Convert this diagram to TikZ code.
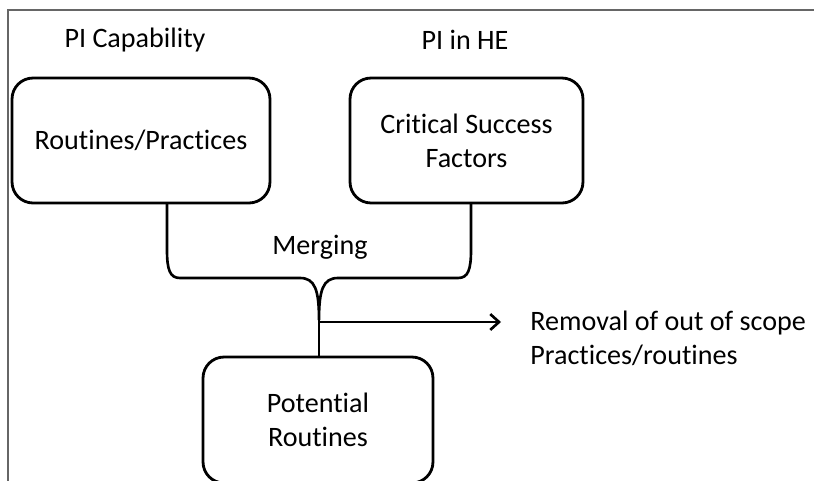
\documentclass[tikz,border=0pt]{standalone}
\usepackage{fontspec}
\setmainfont{Carlito}[RawFeature={-liga;-clig}]
\usetikzlibrary{arrows.meta,positioning}

\begin{document}
\begin{tikzpicture}[x=0.02cm, y=-0.02cm, >={Straight Barb[length=5pt,width=9pt]},
  box/.style={draw, line width=1.6pt, rounded corners=0.42cm, align=center,
    font=\fontsize{16}{19.5}\selectfont, inner sep=0pt},
  lbl/.style={font=\fontsize{16}{19.5}\selectfont, align=left, inner sep=0pt}]
\useasboundingbox (0,0) rectangle (814,480);
\clip (0,0) rectangle (814,480);

% Frame
\draw[gray!80!black, line width=0.6pt] (8,482) -- (8,10) -- (816,10);

% Headings
\node[lbl] (cap) at (135,40) {PI Capability};
\node[lbl] (he) at (465,40) {PI in HE};

% Boxes
\node[box, minimum width=5.16cm, minimum height=2.5cm] (rp) at (141,140.5) {Routines/Practices};
\node[box, minimum width=4.66cm, minimum height=2.5cm] (csf) at (466.5,140.5) {Critical Success\\Factors};
\node[box, minimum width=4.6cm, minimum height=2.52cm] (pr) at (318,420) {Potential\\Routines};

% Merging brace
\coordinate (L) at (167,203);
\coordinate (R) at (471,203);
\coordinate (M) at (319,320);
\draw[line width=1.5pt] (L) -- (167,250) .. controls (167,270) and (170,278) .. (180,278)
  -- (300,278) .. controls (315,278) and (319,290) .. (M)
  .. controls (319,290) and (323,278) .. (338,278)
  -- (458,278) .. controls (468,278) and (471,270) .. (471,250) -- (R);
\draw[line width=1.5pt] (M) -- (pr.north -| M);
\node[lbl] (merge) at (320,247) {Merging};

% Removal
\coordinate (A) at (319,322);
\coordinate (B) at (501,322);
\draw[->, line width=1.5pt] (A) -- (B);
\node[lbl, anchor=west] (rem) at (530,338) {Removal of out of scope\\Practices/routines};
\end{tikzpicture}
\end{document}
